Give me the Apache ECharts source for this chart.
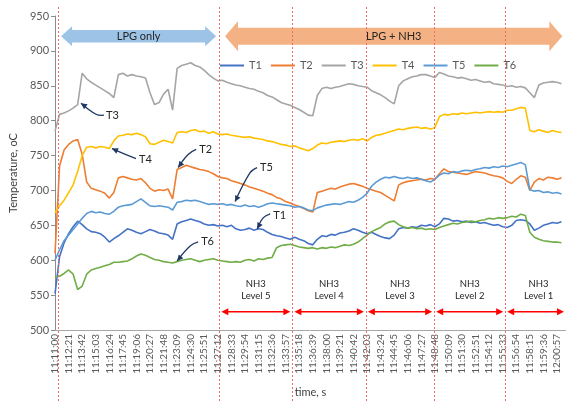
<!DOCTYPE html>
<html>
<head>
<meta charset="utf-8">
<script src="https://cdn.jsdelivr.net/npm/echarts@6/dist/echarts.min.js"></script>
<style>
  html, body { margin: 0; padding: 0; background: #fff; }
  #chart { width: 566px; height: 403px; }
</style>
</head>
<body>
<div id="chart"></div>
<script>
// Furnace thermocouple log, 11:11:00 – 12:01, one reading kept every 27 s.
const startClock = [11, 11, 0];
const sampleStep = 27;      // seconds between stored readings
const labelStep = 81;       // seconds between time labels
const axisEnd = 3051;       // seconds shown on the time axis

const seriesNames = ['T1', 'T2', 'T3', 'T4', 'T5', 'T6'];

const T1 = [552,605,625,638,648,656,651,645,641,640,638,633,626,631,635,640,645,643,640,638,
  641,644,642,639,638,636,630,652,655,657,659,657,655,652,650,651,649,650,648,650,
  645,643,644,646,643,645,644,640,637,635,634,632,630,633,630,628,624,622,630,635,
  634,637,636,639,640,642,645,643,640,638,640,637,634,632,631,636,645,647,646,648,
  647,650,649,651,648,652,660,659,656,657,655,656,654,655,653,654,652,650,651,648,
  647,650,657,658,657,652,643,646,650,652,654,653,655];
const T2 = [610,735,758,766,771,773,752,712,703,701,699,696,689,697,718,720,718,716,715,717,
  711,703,699,701,700,702,688,730,733,736,734,732,730,729,727,724,720,718,717,714,
  712,710,708,705,703,701,699,696,694,690,688,684,682,679,677,674,671,669,697,699,
  701,703,702,705,707,709,710,708,706,703,701,699,697,693,689,685,708,711,713,714,
  715,716,715,717,716,724,731,727,726,725,724,723,725,727,726,725,723,721,720,718,
  713,710,716,721,719,700,712,717,715,719,718,716,718];
const T3 = [785,809,811,814,818,823,868,860,855,851,847,843,839,833,866,868,864,866,864,863,
  861,840,823,826,838,845,815,875,879,881,883,879,877,872,866,861,857,858,855,853,
  851,850,848,846,845,842,840,836,834,830,826,824,822,819,816,812,808,807,836,846,
  848,846,848,849,851,853,852,850,849,848,843,840,837,833,828,824,850,857,860,863,
  864,866,866,864,862,869,867,864,863,861,862,860,858,859,857,855,856,853,852,851,
  849,850,848,849,847,840,833,851,854,855,856,855,853];
const T4 = [668,678,686,697,708,727,750,762,763,761,763,762,760,771,778,779,781,780,782,780,
  777,767,766,769,772,770,768,783,784,783,786,787,784,785,782,784,781,780,781,779,
  778,777,776,777,775,774,773,771,770,768,766,765,763,764,761,759,757,760,765,768,
  767,769,770,771,770,772,773,772,774,771,776,779,780,782,784,786,788,787,789,790,
  791,789,790,788,790,806,809,808,810,809,811,810,811,812,811,812,813,812,813,812,
  815,815,817,819,818,786,784,787,785,783,786,784,783];
const T5 = [600,615,628,636,644,652,660,667,670,668,669,667,666,670,676,678,679,680,684,688,
  683,678,677,678,677,676,672,683,684,686,685,686,684,682,680,681,680,681,679,680,
  678,677,679,677,678,676,678,681,682,681,680,679,678,676,677,675,672,671,675,677,
  679,680,681,680,682,684,683,686,690,696,706,712,716,719,718,720,718,717,719,717,
  718,716,714,712,716,722,725,724,727,726,728,729,728,730,731,733,732,734,733,735,
  734,736,738,740,737,701,699,700,697,698,696,697,695];
const T6 = [576,577,581,586,580,558,563,580,586,588,590,592,594,597,597,598,599,602,606,609,
  607,604,601,600,598,597,596,598,600,601,602,600,598,600,601,602,600,599,598,597,
  598,597,600,601,599,602,601,603,604,618,621,622,623,621,619,618,617,618,616,618,
  617,619,618,620,622,621,623,626,631,636,641,644,647,652,655,656,651,648,646,647,
  645,646,644,645,644,647,649,651,653,652,654,655,656,655,657,658,660,659,661,660,
  661,663,662,666,664,640,633,630,628,627,626,626,625];

const yTicks = { min: 500, max: 950, step: 50 };

// Stage boundaries (s after 11:11:00): run start, then start of NH3 levels 5..1
const stageStarts = [15, 981, 1417, 1856, 2264, 2688];
const levelNames = ['Level 5', 'Level 4', 'Level 3', 'Level 2', 'Level 1'];

// Phase banners: label, start s, end s
const phaseBanners = [
  ['LPG only', 36, 962],
  ['LPG + NH3', 1015, 3029]
];

// Curve callouts: label, time (s), temperature (oC) at the arrow tip
const callouts = [
  ['T3', 155, 825],
  ['T4', 340, 760],
  ['T2', 735, 733],
  ['T5', 1075, 684],
  ['T1', 1207, 645],
  ['T6', 729, 599]
];

const colors = ['#4472C4', '#ED7D31', '#A5A5A5', '#FFC000', '#5B9BD5', '#70AD47'];
const font = 'Lato, "Open Sans", sans-serif';
const textGrey = '#595959';

function clock(sec) {
  let s = startClock[0] * 3600 + startClock[1] * 60 + startClock[2] + sec;
  const h = Math.floor(s / 3600); s -= h * 3600;
  const m = Math.floor(s / 60); s -= m * 60;
  const p = n => String(n).padStart(2, '0');
  return p(h) + ':' + p(m) + ':' + p(s);
}

const allValues = [T1, T2, T3, T4, T5, T6];

const chart = echarts.init(document.getElementById('chart'), null, { renderer: 'canvas' });

chart.setOption({
  animation: false,
  color: colors,
  textStyle: { fontFamily: font },
  grid: { left: 55, right: 0, top: 16, bottom: 68 },
  legend: {
    data: seriesNames,
    icon: 'rect',
    left: 215, top: 55,
    itemWidth: 24, itemHeight: 2, itemGap: 9,
    textStyle: { fontSize: 11, color: textGrey, fontFamily: font }
  },
  xAxis: {
    type: 'value',
    min: 0, max: axisEnd, interval: labelStep,
    name: 'time, s', nameLocation: 'middle', nameGap: 57,
    nameTextStyle: { fontSize: 11, color: '#404040', fontFamily: font },
    axisLine: { lineStyle: { color: '#A6A6A6', width: 1 } },
    axisTick: { show: false },
    splitLine: { show: false },
    axisLabel: {
      rotate: 90, fontSize: 10, color: textGrey, margin: 4, fontFamily: font,
      showMaxLabel: false,
      formatter: v => (v % labelStep === 0 ? clock(v) : '')
    }
  },
  yAxis: {
    type: 'value',
    min: yTicks.min, max: yTicks.max, interval: yTicks.step,
    name: 'Temperature, oC', nameLocation: 'middle', nameGap: 36,
    nameTextStyle: { fontSize: 11, color: '#404040', fontFamily: font },
    axisLine: { show: true, lineStyle: { color: '#8C8C8C', width: 1 } },
    axisTick: { show: true, length: 4, lineStyle: { color: '#8C8C8C' } },
    splitLine: { show: false },
    axisLabel: { fontSize: 11, color: textGrey, margin: 6, fontFamily: font }
  },
  series: seriesNames.map((name, k) => ({
    name, type: 'line', symbol: 'none', smooth: false,
    lineStyle: { width: 1.6, color: colors[k] },
    itemStyle: { color: colors[k] },
    data: allValues[k].map((v, i) => [i * sampleStep, v])
  }))
});

// ---- overlay annotations placed from data coordinates ----
const px = (t, v) => chart.convertToPixel({ gridIndex: 0 }, [t, v]);
const H = 403;
const g = [];

// red dotted stage separators spanning the full height
stageStarts.forEach(t => {
  const x = Math.round(px(t, 500)[0]) + 0.5;
  g.push({
    type: 'line', z: 50, silent: true,
    shape: { x1: x, y1: 7, x2: x, y2: H },
    style: { stroke: '#EE6A6A', lineWidth: 1, lineDash: [2, 2] }
  });
});

function arrowHead(tip, from, len, half, color) {
  const dx = tip[0] - from[0], dy = tip[1] - from[1];
  const d = Math.hypot(dx, dy) || 1;
  const ux = dx / d, uy = dy / d;
  const bx = tip[0] - ux * len, by = tip[1] - uy * len;
  return {
    type: 'polygon', z: 60, silent: true,
    shape: { points: [tip, [bx - uy * half, by + ux * half], [bx + uy * half, by - ux * half]] },
    style: { fill: color }
  };
}

// phase banners: double-headed block arrows with a caption
const bannerStyle = [
  { fill: '#9DC3E6', head: 11, half: 10, shaft: 6.2 },
  { fill: '#F4B183', head: 13, half: 15, shaft: 8.4 }
];
phaseBanners.forEach(([label, t0, t1], k) => {
  const st = bannerStyle[k];
  const a = px(t0, 921), b = px(t1, 921);
  const cy = a[1], x0 = a[0], x1 = b[0];
  g.push({
    type: 'polygon', z: 40, silent: true,
    shape: { points: [
      [x0, cy], [x0 + st.head, cy - st.half], [x0 + st.head, cy - st.shaft],
      [x1 - st.head, cy - st.shaft], [x1 - st.head, cy - st.half], [x1, cy],
      [x1 - st.head, cy + st.half], [x1 - st.head, cy + st.shaft],
      [x0 + st.head, cy + st.shaft], [x0 + st.head, cy + st.half]
    ] },
    style: { fill: st.fill }
  });
  g.push({
    type: 'text', z: 45, silent: true,
    x: (x0 + x1) / 2, y: cy,
    style: { text: label, fill: '#262626', font: '11px ' + font, align: 'center', verticalAlign: 'middle' }
  });
});

// NH3 level captions and red double arrows under each stage
levelNames.forEach((lv, k) => {
  const t0 = stageStarts[k + 1];
  const t1 = k + 2 < stageStarts.length ? stageStarts[k + 2] : axisEnd;
  const a = px(t0, 526), b = px(t1, 526);
  const xa = a[0] + 2, xb = Math.min(b[0] - 2, 566);
  const y = a[1];
  g.push({
    type: 'line', z: 55, silent: true,
    shape: { x1: xa + 4, y1: y, x2: xb - 4, y2: y },
    style: { stroke: '#FF0000', lineWidth: 1.5 }
  });
  g.push(arrowHead([xa, y], [xa + 10, y], 7, 3.5, '#FF0000'));
  g.push(arrowHead([xb, y], [xb - 10, y], 7, 3.5, '#FF0000'));
  const c = px((t0 + t1) / 2, 558);
  g.push({
    type: 'text', z: 55, silent: true,
    x: (xa + xb) / 2 + (k === levelNames.length - 1 ? 3 : 0), y: c[1],
    style: { text: 'NH3\n' + lv, fill: '#262626', font: '9.5px ' + font, align: 'center', verticalAlign: 'middle', lineHeight: 12 }
  });
});

// curve callouts: bent leader from the label to an arrow tip on the curve
const leaderOffsets = {
  T3: [[15, 11], [23, 12], [25, 12]],
  T4: [[14, 6], [24, 10], [27, 11]],
  T2: [[10, -13], [18, -18], [21, -18]],
  T5: [[15, -29], [22, -34], [25, -34]],
  T1: [[6, -11], [13, -15], [16, -13]],
  T6: [[13, -15], [21, -19], [24, -19]]
};
const navy = '#1F3864';
callouts.forEach(([label, t, v]) => {
  const tip = px(t, v);
  const [knee, end, txt] = leaderOffsets[label];
  const kp = [tip[0] + knee[0], tip[1] + knee[1]];
  const ep = [tip[0] + end[0], tip[1] + end[1]];
  g.push({
    type: 'polyline', z: 60, silent: true,
    shape: { points: [ep, kp, tip], smooth: 0.4 },
    style: { stroke: navy, lineWidth: 1.3, fill: null }
  });
  g.push(arrowHead(tip, kp, 6, 3, navy));
  g.push({
    type: 'text', z: 60, silent: true,
    x: tip[0] + txt[0], y: tip[1] + txt[1],
    style: { text: label, fill: '#262626', font: '11px ' + font, align: 'left', verticalAlign: 'middle' }
  });
});

chart.setOption({ graphic: { elements: g } });
</script>
</body>
</html>
